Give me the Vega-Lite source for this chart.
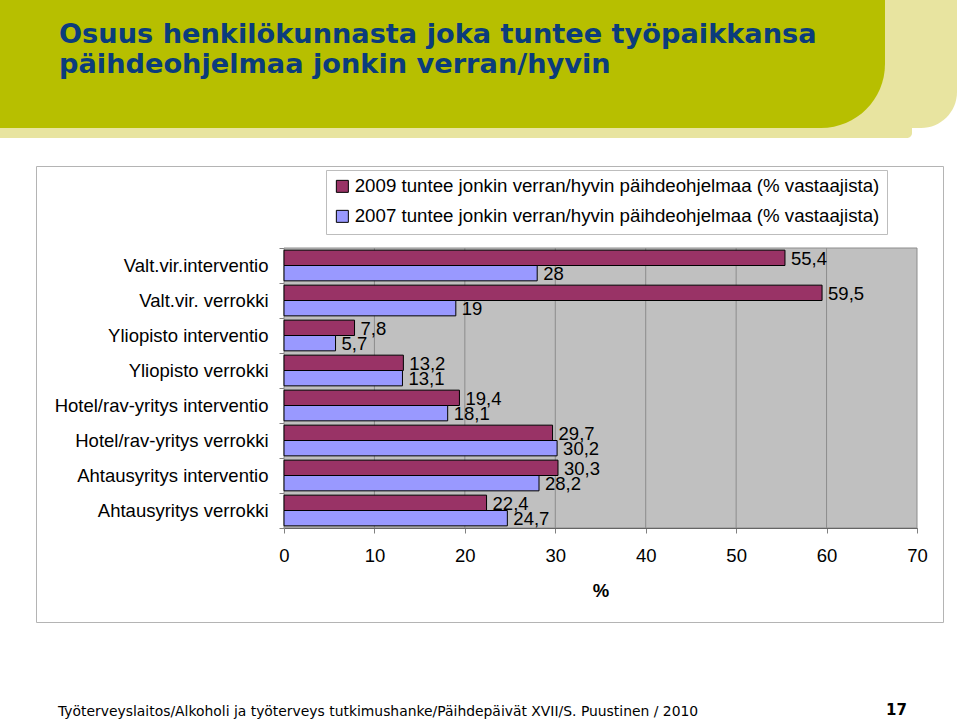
{
  "$schema": "https://vega.github.io/schema/vega-lite/v6.json",
  "padding": 0,
  "background": "white",
  "spacing": 0,
  "config": {
    "view": {"stroke": null},
    "concat": {"spacing": 0},
    "font": "Liberation Sans",
    "locale": {"number": {"decimal": ",", "thousands": " ", "grouping": [3], "currency": ["", " €"]}}
  },
  "datasets": {
    "rivit": [
      {"kategoria": "Valt.vir.interventio", "sarja": "2009 tuntee jonkin verran/hyvin päihdeohjelmaa (% vastaajista)", "arvo": 55.4},
      {"kategoria": "Valt.vir.interventio", "sarja": "2007 tuntee jonkin verran/hyvin päihdeohjelmaa (% vastaajista)", "arvo": 28},
      {"kategoria": "Valt.vir. verrokki", "sarja": "2009 tuntee jonkin verran/hyvin päihdeohjelmaa (% vastaajista)", "arvo": 59.5},
      {"kategoria": "Valt.vir. verrokki", "sarja": "2007 tuntee jonkin verran/hyvin päihdeohjelmaa (% vastaajista)", "arvo": 19},
      {"kategoria": "Yliopisto interventio", "sarja": "2009 tuntee jonkin verran/hyvin päihdeohjelmaa (% vastaajista)", "arvo": 7.8},
      {"kategoria": "Yliopisto interventio", "sarja": "2007 tuntee jonkin verran/hyvin päihdeohjelmaa (% vastaajista)", "arvo": 5.7},
      {"kategoria": "Yliopisto verrokki", "sarja": "2009 tuntee jonkin verran/hyvin päihdeohjelmaa (% vastaajista)", "arvo": 13.2},
      {"kategoria": "Yliopisto verrokki", "sarja": "2007 tuntee jonkin verran/hyvin päihdeohjelmaa (% vastaajista)", "arvo": 13.1},
      {"kategoria": "Hotel/rav-yritys interventio", "sarja": "2009 tuntee jonkin verran/hyvin päihdeohjelmaa (% vastaajista)", "arvo": 19.4},
      {"kategoria": "Hotel/rav-yritys interventio", "sarja": "2007 tuntee jonkin verran/hyvin päihdeohjelmaa (% vastaajista)", "arvo": 18.1},
      {"kategoria": "Hotel/rav-yritys verrokki", "sarja": "2009 tuntee jonkin verran/hyvin päihdeohjelmaa (% vastaajista)", "arvo": 29.7},
      {"kategoria": "Hotel/rav-yritys verrokki", "sarja": "2007 tuntee jonkin verran/hyvin päihdeohjelmaa (% vastaajista)", "arvo": 30.2},
      {"kategoria": "Ahtausyritys interventio", "sarja": "2009 tuntee jonkin verran/hyvin päihdeohjelmaa (% vastaajista)", "arvo": 30.3},
      {"kategoria": "Ahtausyritys interventio", "sarja": "2007 tuntee jonkin verran/hyvin päihdeohjelmaa (% vastaajista)", "arvo": 28.2},
      {"kategoria": "Ahtausyritys verrokki", "sarja": "2009 tuntee jonkin verran/hyvin päihdeohjelmaa (% vastaajista)", "arvo": 22.4},
      {"kategoria": "Ahtausyritys verrokki", "sarja": "2007 tuntee jonkin verran/hyvin päihdeohjelmaa (% vastaajista)", "arvo": 24.7}
    ]
  },
  "vconcat": [
    {
      "spacing": 0,
      "hconcat": [
        {
          "width": 885,
          "height": 128,
          "view": {"fill": "#E8E4A0", "stroke": null},
          "data": {"values": [{}]},
          "mark": {"type": "rect", "fill": "#B7BF00", "cornerRadiusBottomRight": 75},
          "encoding": {},
          "title": {
            "text": ["Osuus henkilökunnasta joka tuntee työpaikkansa", "päihdeohjelmaa jonkin verran/hyvin"],
            "anchor": "start",
            "frame": "group",
            "orient": "top",
            "offset": -79,
            "dx": 59,
            "font": "DejaVu Sans",
            "fontSize": 27.2,
            "fontWeight": "bold",
            "color": "#0B3C7C",
            "lineHeight": 30
          }
        },
        {
          "width": 72,
          "height": 128,
          "data": {"values": [{}]},
          "mark": {"type": "rect", "fill": "#E8E4A0", "cornerRadiusBottomRight": 45},
          "encoding": {}
        }
      ]
    },
    {
      "width": 912,
      "height": 10,
      "data": {"values": [{}]},
      "mark": {"type": "rect", "fill": "#E8E4A0", "cornerRadiusBottomRight": 10},
      "encoding": {}
    },
    {
      "width": 10,
      "height": 18,
      "data": {"values": []},
      "mark": "rect",
      "encoding": {}
    },
    {
      "spacing": 0,
      "hconcat": [
        {
          "width": 35,
          "height": 456,
          "data": {"values": []},
          "mark": "rect",
          "encoding": {}
        },
        {
          "width": 907,
          "height": 456,
          "view": {"fill": "white", "stroke": "#B4B4B4", "strokeWidth": 1},
          "resolve": {"scale": {"y": "independent"}},
          "layer": [
            {
              "data": {"values": [{}]},
              "mark": {"type": "rect", "fill": "#C0C0C0", "stroke": "#8C8C8C", "strokeWidth": 1},
              "encoding": {
                "x": {
                  "datum": 0, "type": "quantitative",
                  "scale": {"domain": [0, 70], "range": [248, 881], "nice": false},
                  "axis": {
                    "orient": "bottom", "offset": -94, "values": [0, 10, 20, 30, 40, 50, 60, 70],
                    "grid": false, "domainColor": "#404040", "tickColor": "#808080", "tickSize": 5,
                    "labelFontSize": 18.5, "labelColor": "black", "labelPadding": 13, "labelFlush": false,
                    "title": "%", "titleFontSize": 18.5, "titleFontWeight": "bold", "titleColor": "black",
                    "titlePadding": 17
                  }
                },
                "x2": {"datum": 70},
                "y": {"datum": 0, "type": "quantitative", "axis": null, "scale": {"domain": [0, 1], "range": [82, 362]}},
                "y2": {"datum": 1}
              }
            },
            {
              "data": {"values": [{"g": 10}, {"g": 20}, {"g": 30}, {"g": 40}, {"g": 50}, {"g": 60}]},
              "mark": {"type": "rule", "color": "#8C8C8C", "strokeWidth": 1},
              "encoding": {
                "x": {"field": "g", "type": "quantitative"},
                "y": {"datum": 0, "type": "quantitative", "axis": null, "scale": {"domain": [0, 1], "range": [82, 362]}},
                "y2": {"datum": 1}
              }
            },
            {
              "data": {"name": "rivit"},
              "layer": [
                {
                  "mark": {"type": "bar", "stroke": "black", "strokeWidth": 1},
                  "encoding": {
                    "y": {
                      "field": "kategoria", "type": "nominal", "sort": null,
                      "scale": {"range": [82, 362], "paddingInner": 0, "paddingOuter": 0},
                      "axis": {
                        "orient": "left", "offset": -248, "title": null, "domain": false,
                        "tickBand": "extent", "tickSize": 5, "tickColor": "#808080",
                        "labelFontSize": 18.5, "labelColor": "black", "labelPadding": 11,
                        "labelLimit": 400, "grid": false
                      }
                    },
                    "yOffset": {
                      "field": "sarja", "type": "nominal", "sort": null,
                      "scale": {"paddingOuter": 0.14, "paddingInner": 0}
                    },
                    "x": {"field": "arvo", "type": "quantitative"},
                    "color": {
                      "field": "sarja", "type": "nominal", "sort": null,
                      "scale": {
                        "domain": ["2009 tuntee jonkin verran/hyvin päihdeohjelmaa (% vastaajista)", "2007 tuntee jonkin verran/hyvin päihdeohjelmaa (% vastaajista)"],
                        "range": ["#993366", "#9999FF"]
                      },
                      "legend": {
                        "title": null, "orient": "none", "legendX": 326, "legendY": 170, "direction": "vertical",
                        "symbolType": "square", "symbolSize": 144, "symbolStrokeColor": "black", "symbolStrokeWidth": 1,
                        "labelFontSize": 18.7, "labelColor": "black", "labelLimit": 700, "labelOffset": 3,
                        "rowPadding": 10, "padding": 7, "strokeColor": "#BDBDBD", "fillColor": "white"
                      }
                    }
                  }
                },
                {
                  "mark": {"type": "text", "align": "left", "baseline": "middle", "dx": 6, "dy": 1, "fontSize": 18.5, "color": "black"},
                  "encoding": {
                    "y": {"field": "kategoria", "type": "nominal", "sort": null},
                    "yOffset": {"field": "sarja", "type": "nominal", "sort": null},
                    "x": {"field": "arvo", "type": "quantitative"},
                    "text": {"field": "arvo", "type": "quantitative", "format": "~g"}
                  }
                }
              ]
            }
          ]
        }
      ]
    },
    {
      "spacing": 0,
      "hconcat": [
        {
          "width": 860,
          "height": 97,
          "data": {"values": []},
          "mark": "rect",
          "encoding": {},
          "title": {
            "text": "Työterveyslaitos/Alkoholi ja työterveys tutkimushanke/Päihdepäivät XVII/S. Puustinen / 2010",
            "anchor": "start", "frame": "group", "orient": "top", "offset": -96, "dx": 58,
            "font": "DejaVu Sans", "fontSize": 13.9, "fontWeight": "normal", "color": "black"
          }
        },
        {
          "width": 100,
          "height": 97,
          "data": {"values": []},
          "mark": "rect",
          "encoding": {},
          "title": {
            "text": "17",
            "anchor": "start", "frame": "group", "orient": "top", "offset": -95, "dx": 26,
            "font": "DejaVu Sans", "fontSize": 15, "fontWeight": "bold", "color": "black"
          }
        }
      ]
    }
  ]
}
